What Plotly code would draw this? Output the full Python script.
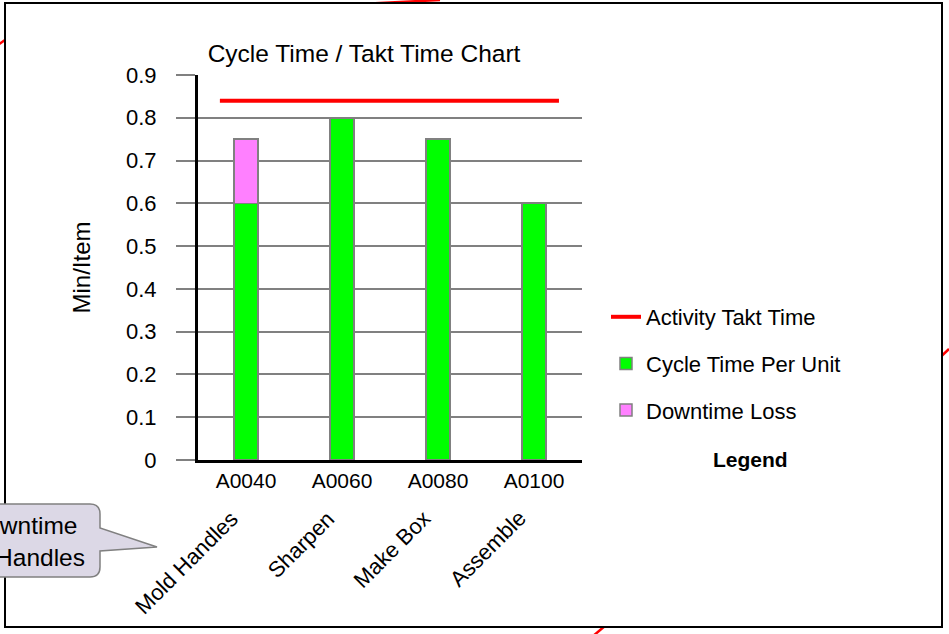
import plotly.graph_objects as go

# ---------------- data ----------------
codes = ["A0040", "A0060", "A0080", "A0100"]
activities = ["Mold Handles", "Sharpen", "Make Box", "Assemble"]
cycle_time = [0.6, 0.8, 0.75, 0.6]
downtime_loss = [0.15, 0, 0, 0]
takt_time = 0.84
y_ticks = [0, 0.1, 0.2, 0.3, 0.4, 0.5, 0.6, 0.7, 0.8, 0.9]

# ---------------- layout helpers (pixel -> paper) ----------------
W, H = 949, 634
PL, PR, PT, PB = 198, 582, 75, 460


def px(x):
    return (x - PL) / (PR - PL)


def py(y):
    return (PB - y) / (PB - PT)


FONT = "Liberation Sans, Arial, sans-serif"
GRAY = "#808080"

fig = go.Figure()

# takt line (drawn on a hidden 0..1 overlay axis spanning the plot width)
fig.add_trace(go.Scatter(
    x=[0.057, 0.94], y=[takt_time, takt_time], xaxis="x2", yaxis="y",
    mode="lines", line=dict(color="#FF0000", width=4),
    name="Activity Takt Time", legendgroup="a",
))
fig.add_trace(go.Bar(
    x=codes, y=cycle_time, name="Cycle Time Per Unit", legendgroup="b",
    marker=dict(color="#00FF00", line=dict(color=GRAY, width=1.5)), width=0.255,
))
fig.add_trace(go.Bar(
    x=codes, y=downtime_loss, name="Downtime Loss", legendgroup="c",
    marker=dict(color="#FF80FF", line=dict(color=GRAY, width=1.5)), width=0.255,
))

shapes = []
# decorative red strokes peeking out from behind the frame
for (x0, y0, x1, y1) in [(-5, 47, 22, 28), (340, 5, 440, 0), (949, 349, 932, 365), (586, 642, 612, 620)]:
    shapes.append(dict(type="line", xref="paper", yref="paper", layer="below",
                       x0=px(x0), y0=py(y0), x1=px(x1), y1=py(y1),
                       line=dict(color="#FF0000", width=2.5)))
# white frame
shapes.append(dict(type="rect", xref="paper", yref="paper", layer="below",
                   x0=px(5), y0=py(627), x1=px(942), y1=py(3),
                   fillcolor="white", line=dict(color="black", width=2)))
# callout balloon
cx0, cx1, cy0, cy1, r = -30, 100, 504, 577, 10
tipx, tipy = 157, 547
path = (f"M {px(cx0)},{py(cy0)} L {px(cx1 - r)},{py(cy0)} "
        f"Q {px(cx1)},{py(cy0)} {px(cx1)},{py(cy0 + r)} "
        f"L {px(cx1)},{py(528)} L {px(tipx)},{py(tipy)} L {px(cx1)},{py(551)} "
        f"L {px(cx1)},{py(cy1 - r)} Q {px(cx1)},{py(cy1)} {px(cx1 - r)},{py(cy1)} "
        f"L {px(cx0)},{py(cy1)} Z")
shapes.append(dict(type="path", xref="paper", yref="paper", layer="above", path=path,
                   fillcolor="#DCD8E6", line=dict(color=GRAY, width=1.5)))

annotations = []
# rotated activity labels
for code, act in zip(codes, activities):
    annotations.append(dict(x=code, xref="x", y=py(503), yref="paper", text=act,
                            textangle=-45, xanchor="right", yanchor="top", showarrow=False,
                            xshift=0, font=dict(family=FONT, size=22, color="black")))
# legend caption
annotations.append(dict(x=px(750), y=py(459), xref="paper", yref="paper", text="<b>Legend</b>",
                        showarrow=False, xanchor="center", yanchor="middle",
                        font=dict(family=FONT, size=21, color="black")))
# callout text
annotations.append(dict(x=px(23), y=py(541), xref="paper", yref="paper",
                        text="Downtime<br>on Handles", align="center", showarrow=False,
                        xanchor="center", yanchor="middle",
                        font=dict(family=FONT, size=24.5, color="black")))

fig.update_layout(
    width=W, height=H,
    margin=dict(l=PL, r=W - PR, t=PT, b=H - PB, autoexpand=False),
    paper_bgcolor="white", plot_bgcolor="white",
    barmode="stack",
    font=dict(family=FONT, size=21, color="black"),
    title=dict(text="Cycle Time / Takt Time Chart", x=364 / W, xanchor="center",
               y=1 - 53 / H, yanchor="middle", font=dict(family=FONT, size=24.5, color="black")),
    xaxis=dict(type="category", range=[-0.5, 3.5], showgrid=False, showline=True,
               linecolor="black", linewidth=3, ticks="", tickfont=dict(size=21),
               fixedrange=True),
    xaxis2=dict(overlaying="x", range=[0, 1], visible=False, fixedrange=True),
    yaxis=dict(range=[0, 0.9], tickvals=y_ticks, showgrid=True, gridcolor=GRAY, gridwidth=1.5,
               zeroline=False, showline=True, linecolor="black", linewidth=3,
               ticks="outside", ticklen=19, tickcolor=GRAY, tickwidth=1.5,
               ticklabelstandoff=15, tickfont=dict(size=22), fixedrange=True,
               title=dict(text="Min/Item", font=dict(size=24), standoff=29)),
    showlegend=True,
    legend=dict(x=px(606), xanchor="left", y=py(296), yanchor="top",
                traceorder="grouped", tracegroupgap=15, bgcolor="rgba(0,0,0,0)",
                font=dict(family=FONT, size=22, color="black")),
    shapes=shapes,
    annotations=annotations,
)

fig.write_html("out.html", config={"displayModeBar": False},
               post_script="document.body.style.margin='0';")
